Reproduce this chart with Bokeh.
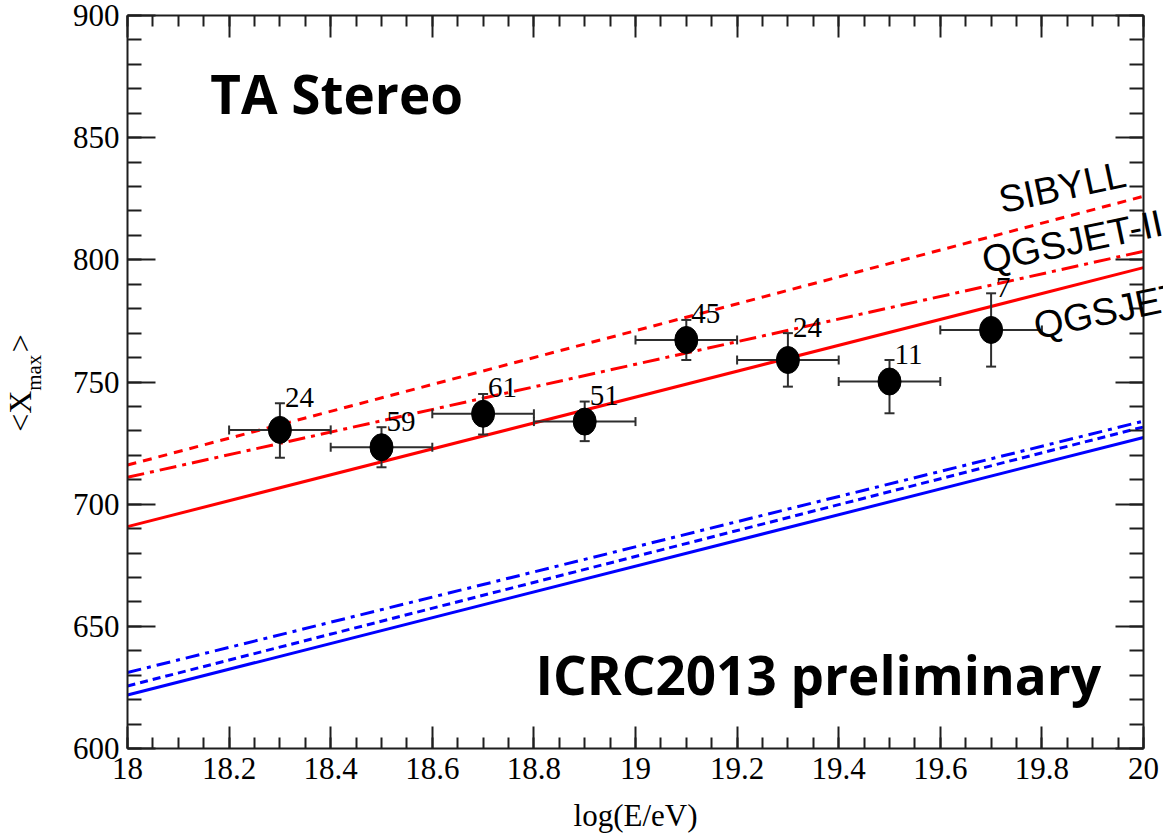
import math

from bokeh.plotting import figure
from bokeh.models import (ColumnDataSource, Label, LinearAxis, Range1d,
                          SingleIntervalTicker, NumeralTickFormatter,
                          PrintfTickFormatter)
from bokeh.embed import file_html
from bokeh.resources import INLINE
from bokeh.core.properties import value

# ---- TA stereo <Xmax> per energy bin ----
log_e = [18.3, 18.5, 18.7, 18.9, 19.1, 19.3, 19.5, 19.7]
bin_lo = [18.2, 18.4, 18.6, 18.8, 19.0, 19.2, 19.4, 19.6]
bin_hi = [18.4, 18.6, 18.8, 19.0, 19.2, 19.4, 19.6, 19.8]
xmax_mean = [730.4, 723.3, 737.0, 733.8, 767.2, 759.0, 750.2, 771.3]
xmax_hi = [741.3, 731.5, 745.1, 742.0, 775.4, 770.0, 759.0, 786.3]
xmax_lo = [719.0, 715.1, 728.5, 725.8, 759.0, 748.1, 737.2, 756.3]
n_events = ["24", "59", "61", "51", "45", "24", "11", "7"]

# ---- model predictions (proton in red, iron in blue) ----
model_log_e = [18.0, 20.0]
proton_sibyll = [716.0, 826.0]
proton_qgsjet2 = [711.0, 803.5]
proton_qgsjet01 = [690.8, 796.8]
iron_sibyll = [625.6, 731.6]
iron_qgsjet2 = [631.1, 734.0]
iron_qgsjet01 = [621.9, 727.3]

model_names = ["SIBYLL", "QGSJET-II", "QGSJET01"]

# plot box in data units and the pixel margins around it
X0, X1 = 18.0, 20.0
Y0, Y1 = 600.0, 900.0
W, H = 1163, 837
M_LEFT, M_RIGHT, M_TOP, M_BOTTOM = 127, 20, 15, 89

sx = (X1 - X0) / (W - M_LEFT - M_RIGHT)
sy = (Y1 - Y0) / (H - M_TOP - M_BOTTOM)

SERIF = "Liberation Serif"
SANS = "Liberation Sans"
AXIS_COLOR = "#1e1e1e"
BAR_COLOR = "#2e2e2e"

# the frame covers the whole canvas so that titles around the box stay visible;
# the axes are pinned to the edges of the box
p = figure(width=W, height=H,
           x_range=Range1d(X0 - M_LEFT * sx, X1 + M_RIGHT * sx),
           y_range=Range1d(Y0 - M_BOTTOM * sy, Y1 + M_TOP * sy),
           output_backend="svg", toolbar_location=None,
           x_axis_location=None, y_axis_location=None,
           min_border=0, min_border_left=0, min_border_right=0,
           min_border_top=0, min_border_bottom=0)
p.outline_line_color = None
p.xgrid.visible = False
p.ygrid.visible = False
p.background_fill_color = "white"
p.border_fill_color = "white"


def make_axis(is_x, show_labels, where):
    if is_x:
        ticker = SingleIntervalTicker(interval=0.2, num_minor_ticks=4)
        major, minor = 22, 11
        bounds = (X0, X1)
    else:
        ticker = SingleIntervalTicker(interval=50, num_minor_ticks=5)
        major, minor = 28, 14
        bounds = (Y0, Y1)
    ax = LinearAxis(ticker=ticker, fixed_location=where, bounds=bounds)
    ax.axis_line_color = AXIS_COLOR
    ax.axis_line_width = 2
    ax.major_tick_line_color = AXIS_COLOR
    ax.major_tick_line_width = 2
    ax.minor_tick_line_color = AXIS_COLOR
    ax.minor_tick_line_width = 2
    ax.major_tick_in = major
    ax.major_tick_out = 0
    ax.minor_tick_in = minor
    ax.minor_tick_out = 0
    ax.major_label_text_font = SERIF
    ax.major_label_text_font_size = "31px"
    ax.major_label_text_color = "black"
    if show_labels:
        ax.major_label_standoff = 8 if not is_x else 9
        if is_x:
            ax.formatter = NumeralTickFormatter(format="0.[0]")
    else:
        # mirrored axis: ticks only, no numbers
        ax.formatter = PrintfTickFormatter(format="")
        ax.major_label_standoff = 0
    return ax


p.add_layout(make_axis(True, True, Y0), "below")
p.add_layout(make_axis(True, False, Y1), "above")
p.add_layout(make_axis(False, True, X0), "left")
p.add_layout(make_axis(False, False, X1), "right")

# ---- model lines ----
red, blue = "#ff0000", "#0000ff"
dotted, dashdot = "9 7", "17 6 4 6"
p.line(model_log_e, proton_sibyll, line_color=red, line_width=3, line_dash=dotted)
p.line(model_log_e, proton_qgsjet2, line_color=red, line_width=3, line_dash=dashdot)
p.line(model_log_e, proton_qgsjet01, line_color=red, line_width=3)
p.line(model_log_e, iron_sibyll, line_color=blue, line_width=3, line_dash="8 5")
p.line(model_log_e, iron_qgsjet2, line_color=blue, line_width=3, line_dash="14 6 4 6")
p.line(model_log_e, iron_qgsjet01, line_color=blue, line_width=3)

# ---- data points with error bars ----
# event counts sit just above the upper error cap
count_y = [v + 6 * sy for v in xmax_hi]
src = ColumnDataSource(dict(x=log_e, lo=bin_lo, hi=bin_hi, y=xmax_mean,
                            ylo=xmax_lo, yhi=xmax_hi, n=n_events, ny=count_y))
p.segment(x0="x", y0="ylo", x1="x", y1="yhi", source=src,
          line_color=BAR_COLOR, line_width=2)
p.segment(x0="lo", y0="y", x1="hi", y1="y", source=src,
          line_color=BAR_COLOR, line_width=2)
p.scatter(x="x", y="yhi", source=src, marker="dash", size=10,
          line_color=BAR_COLOR, line_width=2)
p.scatter(x="x", y="ylo", source=src, marker="dash", size=10,
          line_color=BAR_COLOR, line_width=2)
p.scatter(x="lo", y="y", source=src, marker="dash", size=9, angle=math.pi / 2,
          line_color=BAR_COLOR, line_width=2)
p.scatter(x="hi", y="y", source=src, marker="dash", size=9, angle=math.pi / 2,
          line_color=BAR_COLOR, line_width=2)
p.ellipse(x="x", y="y", width=23, height=27, width_units="screen",
          height_units="screen", source=src, fill_color="black", line_color="black")

p.text(x="x", y="ny", text="n", source=src, x_offset=5,
       text_font=value(SERIF), text_font_size="29px", text_color="black",
       text_baseline="alphabetic", text_align="left")

# ---- model names along the proton lines ----
name_pos = [(19.716, 824.3), (19.683, 799.7), (19.785, 772.7)]
for name, (nx, ny) in zip(model_names, name_pos):
    p.add_layout(Label(x=nx, y=ny, text=name, angle=0.21,
                       text_font=SANS, text_font_size="38px", text_color="black",
                       text_baseline="alphabetic", text_align="left"))

# ---- headline texts ----
p.add_layout(Label(x=18.163, y=868.1, text="TA Stereo", text_font="Open Sans",
                   text_font_style="bold", text_font_size="53px", text_color="black",
                   text_baseline="alphabetic"))
p.add_layout(Label(x=18.803, y=630.4, text="ICRC2013 preliminary",
                   text_font="Open Sans", text_font_style="bold",
                   text_font_size="53px", text_color="black",
                   text_baseline="alphabetic"))

# ---- axis titles ----
p.add_layout(Label(x=19.0, y=572.5, text="log(E/eV)", text_font=SERIF,
                   text_font_size="31px", text_color="black",
                   text_align="center", text_baseline="alphabetic"))
# <X_max> written bottom-to-top with a subscript
p.add_layout(Label(x=17.789, y=729.6, text="<X", angle=math.pi / 2,
                   text_font=SERIF, text_font_size="32px", text_color="black",
                   text_align="left", text_baseline="alphabetic"))
p.add_layout(Label(x=17.816, y=746.4, text="max", angle=math.pi / 2,
                   text_font=SERIF, text_font_size="21px", text_color="black",
                   text_align="left", text_baseline="alphabetic"))
p.add_layout(Label(x=17.789, y=762.2, text=">", angle=math.pi / 2,
                   text_font=SERIF, text_font_size="32px", text_color="black",
                   text_align="left", text_baseline="alphabetic"))

open("out.html", "w").write(file_html(p, INLINE))
